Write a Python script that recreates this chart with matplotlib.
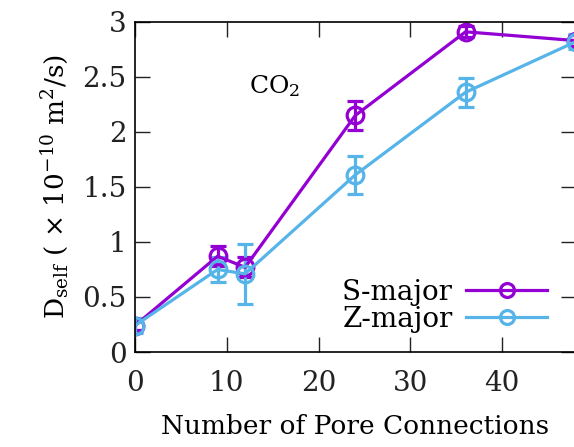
import matplotlib.pyplot as plt
from matplotlib.lines import Line2D

# pore connections and self-diffusion (x 1e-10 m^2/s)
connections = [0, 9, 12, 24, 36, 48]
s_major = [0.24, 0.87, 0.77, 2.15, 2.91, 2.83]
s_major_err = [0.04, 0.09, 0.09, 0.13, 0.05, 0.05]
z_major = [0.24, 0.75, 0.71, 1.61, 2.36, 2.82]
z_major_err = [0.07, 0.11, 0.27, 0.17, 0.13, 0.07]

purple = '#9400d3'
blue = '#56b4e9'

plt.rcParams['font.family'] = ['DejaVu Serif']
plt.rcParams['mathtext.fontset'] = 'dejavuserif'

fig = plt.figure(figsize=[5.74, 4.47], dpi=100)
ax = fig.add_axes([0.235, 0.2125, 0.768, 0.7385])

style = dict(marker='o', markersize=12, markerfacecolor='none', markeredgewidth=2.3,
             linewidth=2.3, capsize=6, capthick=2.3, elinewidth=2.3)
ax.errorbar(connections, s_major, yerr=s_major_err, color=purple, **style)
ax.errorbar(connections, z_major, yerr=z_major_err, color=blue, **style)

ax.set_xlim(0, 48)
ax.set_ylim(0, 3)
ax.set_xticks([0, 10, 20, 30, 40])
ax.set_yticks([0, 0.5, 1, 1.5, 2, 2.5, 3])
ax.set_yticklabels(['0', '0.5', '1', '1.5', '2', '2.5', '3'])
ax.tick_params(direction='in', length=11, width=1, labelsize=20, pad=6,
               top=True, right=True, colors='#222222')
ax.tick_params(axis='x', pad=13)
for s in ax.spines.values():
    s.set_linewidth(1.2)

ax.set_xlabel('Number of Pore Connections', fontsize=19, labelpad=12)
ax.set_ylabel(r'D$_{\rm self}$ ( $\times$ 10$^{-10}$ m$^2$/s)', fontsize=19, labelpad=8)
ax.text(12.4, 2.35, r'CO$_2$', fontsize=18)

handles = [Line2D([], [], color=purple, lw=2.3, marker='o', ms=10, mfc='none', mew=2.3),
           Line2D([], [], color=blue, lw=2.3, marker='o', ms=10, mfc='none', mew=2.3)]
ax.legend(handles, ['S-major', 'Z-major'], loc='lower right', markerfirst=False,
          frameon=False, fontsize=20, handlelength=2.9, handletextpad=0.5,
          labelspacing=0.0, borderaxespad=0.0, bbox_to_anchor=(0.96, 0.025))

fig.savefig('out.png', dpi=100)
